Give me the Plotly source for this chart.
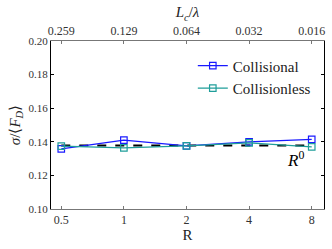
import plotly.graph_objects as go

R = [0.5, 1, 2, 4, 8]
top_labels = ["0.259", "0.129", "0.064", "0.032", "0.016"]
collisional = [0.1358, 0.1410, 0.1376, 0.1400, 0.1414]
collisionless = [0.1374, 0.1364, 0.1376, 0.1394, 0.1370]
r0 = [0.1378, 0.1378, 0.1378, 0.1378, 0.1378]

FONT = "Liberation Serif, Times New Roman, Times, serif"
xr = [-0.3504, 0.9621]

fig = go.Figure()
fig.add_trace(go.Scatter(x=R, y=r0, mode="lines", showlegend=False,
                         line=dict(color="black", width=2.2, dash="dash")))
fig.add_trace(go.Scatter(x=R, y=collisional, mode="lines+markers", name="Collisional",
                         line=dict(color="#1a1aff", width=1.3),
                         marker=dict(symbol="square-open", size=6.5, color="#1a1aff",
                                     line=dict(width=1.2))))
fig.add_trace(go.Scatter(x=R, y=collisionless, mode="lines+markers", name="Collisionless",
                         line=dict(color="#1f9e9a", width=1.3),
                         marker=dict(symbol="square-open", size=6.5, color="#1f9e9a",
                                     line=dict(width=1.2))))
fig.add_trace(go.Scatter(x=R, y=r0, xaxis="x2", mode="lines", showlegend=False,
                         line=dict(width=0), hoverinfo="skip", opacity=0))

fig.add_annotation(x=0.826, y=0.1295, xref="x", yref="y", text="<i>R</i><sup>0</sup>",
                   showarrow=False, font=dict(family=FONT, size=17, color="black"))

tickfont = dict(family=FONT, size=12, color="#333")
ytickfont = dict(family=FONT, size=11, color="#333")
fig.update_layout(
    width=332, height=249,
    margin=dict(l=51, r=8, t=41, b=40, autoexpand=False),
    paper_bgcolor="white", plot_bgcolor="white",
    font=dict(family=FONT),
    xaxis=dict(type="log", range=xr, tickvals=R, ticktext=["0.5", "1", "2", "4", "8"],
               ticks="inside", ticklen=3, tickcolor="#777", showgrid=False, zeroline=False,
               showline=True, linecolor="#777", linewidth=1, tickfont=tickfont,
               automargin=False,
               title=dict(text="R", font=dict(family=FONT, size=15, color="#222"), standoff=2)),
    xaxis2=dict(type="log", range=xr, overlaying="x", side="top", tickvals=R,
                ticktext=top_labels, ticks="inside", ticklen=3, tickcolor="#777",
                showgrid=False, zeroline=False, showline=True, linecolor="#777",
                linewidth=1, tickfont=tickfont, automargin=False,
                title=dict(text="<i>L</i><sub><i>c</i></sub>/<i>λ</i>",
                           font=dict(family=FONT, size=15, color="#222"), standoff=2)),
    yaxis=dict(range=[0.10, 0.20], tickvals=[0.10, 0.12, 0.14, 0.16, 0.18, 0.20],
               ticktext=["0.10", "0.12", "0.14", "0.16", "0.18", "0.20"],
               ticks="inside", ticklen=3, tickcolor="black", showgrid=False, zeroline=False,
               showline=True, linecolor="black", linewidth=1, mirror="ticks",
               tickfont=ytickfont, automargin=False,
               title=dict(text="<i>σ</i>/⟨<i>F</i><sub><i>D</i></sub>⟩",
                          font=dict(family=FONT, size=15, color="#222"), standoff=4)),
    legend=dict(x=0.97, y=0.95, xanchor="right", yanchor="top", borderwidth=0,
                bgcolor="rgba(0,0,0,0)", font=dict(family=FONT, size=15, color="#222"),
                itemwidth=30, tracegroupgap=2),
)
fig.write_html("out.html", config={"displayModeBar": False},
               post_script="document.body.style.margin='0';document.body.style.padding='0';")
